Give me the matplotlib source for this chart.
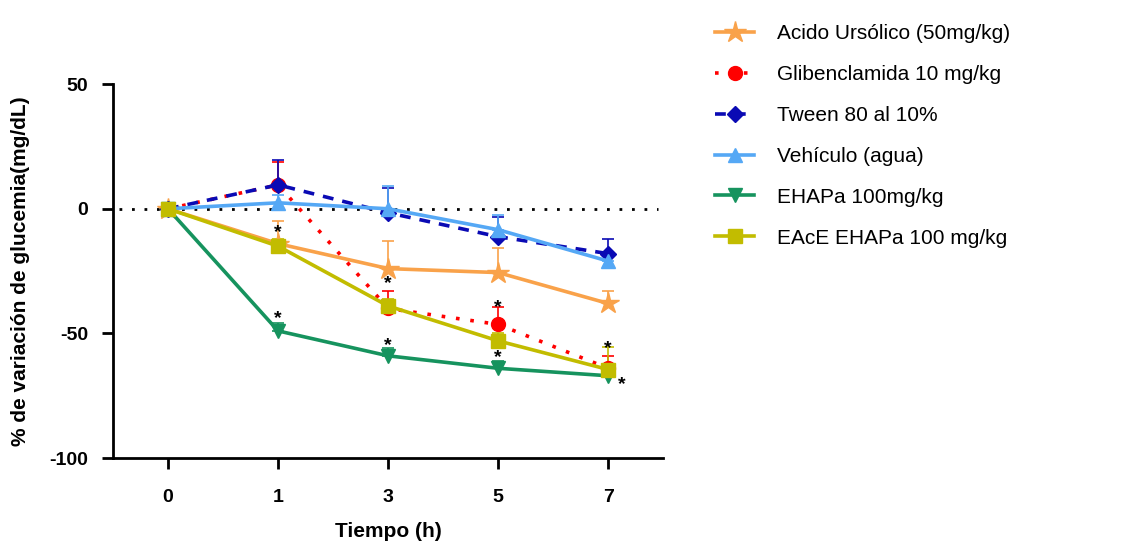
import matplotlib.pyplot as plt
import numpy as np

plt.rcParams['font.family'] = ['Liberation Sans', 'DejaVu Sans']
plt.rcParams['axes.unicode_minus'] = False

tiempos = ['0', '1', '3', '5', '7']

acido = [0, -14, -24, -25.6, -38]
acido_err = [0, 9, 11, 10, 5]
gliben = [0, 9.6, -40, -46.4, -64]
gliben_err = [0, 9, 7, 7, 5]
tween = [0, 9.6, -1.6, -11.2, -18]
tween_err = [0, 10, 10, 8, 6]
vehiculo = [0, 2.4, 0, -8.4, -21]
vehiculo_err = [0, 3, 9, 6, 3]
ehapa = [0, -49, -59, -64, -67]
ehapa_err = [0, 3, 3, 3, 2]
eace = [0, -15, -39, -53, -64.5]
eace_err = [0, 3, 3, 3, 9]

# asterisks (x index, y value)
ast_x = [1, 1, 2, 2, 3, 3, 4]
ast_y = [-9.5, -44, -30, -55, -39.5, -59.5, -56]

fig = plt.figure(figsize=(11.3, 5.43), dpi=100)
ax = fig.add_axes([0.1, 0.1565, 0.487, 0.6885])

x = np.arange(len(tiempos))
ax.axhline(0, color='black', linestyle=(0, (1, 3.5)), linewidth=2, zorder=1,
           xmin=0.01, xmax=0.99)

series = [
    ('Acido Ursólico (50mg/kg)', acido, acido_err, '#F9A24A', '-', '*', 16),
    ('Glibenclamida 10 mg/kg', gliben, gliben_err, '#FF0000', (0, (1, 3)), 'o', 10),
    ('Tween 80 al 10%', tween, tween_err, '#0A0AB4', (0, (3, 2.5)), 'D', 8),
    ('Vehículo (agua)', vehiculo, vehiculo_err, '#55A8F5', '-', '^', 10),
    ('EHAPa 100mg/kg', ehapa, ehapa_err, '#16935E', '-', 'v', 10),
    ('EAcE EHAPa 100 mg/kg', eace, eace_err, '#C2BC00', '-', 's', 10),
]

handles = []
for label, y, err, col, ls, mk, ms in series:
    ax.errorbar(x, y, yerr=[np.zeros(len(err)), err], fmt='none', ecolor=col,
                elinewidth=1.2, capsize=4, capthick=1.2, zorder=2)
    h, = ax.plot(x, y, color=col, linestyle=ls, linewidth=2.6, marker=mk,
                 markersize=ms, label=label, zorder=3)
    handles.append(h)

for ix, iy in zip(ast_x, ast_y):
    ax.text(ix, iy, '*', ha='center', va='center', fontsize=14, fontweight='bold')
ax.text(4.12, -70.5, '*', ha='center', va='center', fontsize=14, fontweight='bold')

ax.set_xlim(-0.5, 4.5)
ax.set_ylim(-100, 50)
ax.set_xticks(x)
ax.set_xticklabels(tiempos)
ax.set_yticks([-100, -50, 0, 50])
for s in ['top', 'right']:
    ax.spines[s].set_visible(False)
for s in ['left', 'bottom']:
    ax.spines[s].set_linewidth(2)
ax.tick_params(width=2, length=8, labelsize=14)
ax.tick_params(axis='x', pad=14)
ax.tick_params(axis='y', pad=10)
for t in ax.get_xticklabels() + ax.get_yticklabels():
    t.set_fontweight('bold')
ax.set_xlabel('Tiempo (h)', fontsize=15, fontweight='bold', labelpad=12)
ax.set_ylabel('% de variación de glucemia(mg/dL)', fontsize=15, fontweight='bold', labelpad=14)

fig.legend(handles=handles, loc='upper left', bbox_to_anchor=(0.616, 0.99),
           frameon=False, fontsize=15, labelspacing=1.05, handlelength=1.9,
           handletextpad=1.1)

fig.savefig('out.png', dpi=100)
